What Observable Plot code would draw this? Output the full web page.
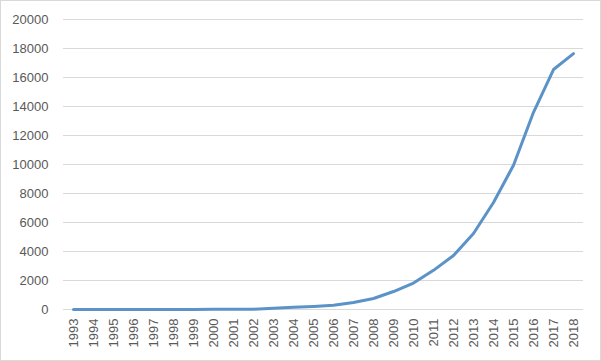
<!DOCTYPE html>
<html>
<head>
<meta charset="utf-8">
<script src="https://cdn.jsdelivr.net/npm/d3@7"></script>
<script src="https://cdn.jsdelivr.net/npm/@observablehq/plot@0.6"></script>
<style>
  html, body { margin: 0; padding: 0; background: #fff; }
  #chart svg { display: block; outline: 1px solid #d9d9d9; outline-offset: -1px; }
</style>
</head>
<body>
<div id="chart"></div>
<script>
const years = ["1993","1994","1995","1996","1997","1998","1999","2000","2001","2002","2003","2004","2005","2006","2007","2008","2009","2010","2011","2012","2013","2014","2015","2016","2017","2018"];
const values = [2, 3, 4, 5, 6, 7, 8, 10, 12, 20, 80, 150, 210, 290, 480, 760, 1240, 1820, 2700, 3720, 5240, 7380, 9950, 13600, 16550, 17650];
const yTicks = [0, 2000, 4000, 6000, 8000, 10000, 12000, 14000, 16000, 18000, 20000];

const data = years.map((y, i) => ({year: y, value: values[i]}));

const chart = Plot.plot({
  width: 601,
  height: 361,
  marginLeft: 63,
  marginRight: 18,
  marginTop: 19,
  marginBottom: 52,
  style: {fontFamily: "'Liberation Sans', Arial, sans-serif", fontSize: "13px", color: "#595959", background: "#fff"},
  x: {type: "point", domain: years, padding: 0.5, label: null},
  y: {domain: [0, 20000], ticks: yTicks, label: null},
  marks: [
    Plot.gridY(yTicks, {stroke: "#d9d9d9", strokeOpacity: 1, strokeWidth: 1}),
    Plot.axisY(yTicks, {tickSize: 0, tickPadding: 15, tickFormat: d => String(d), fill: "#595959", fontSize: 13}),
    Plot.axisX(years, {tickSize: 0, tickPadding: 9, tickRotate: -90, fill: "#595959", fontSize: 13}),
    Plot.line(data, {x: "year", y: "value", stroke: "#5b93c8", strokeWidth: 3, strokeLinejoin: "round", strokeLinecap: "round"})
  ]
});
document.getElementById("chart").appendChild(chart);
</script>
</body>
</html>
